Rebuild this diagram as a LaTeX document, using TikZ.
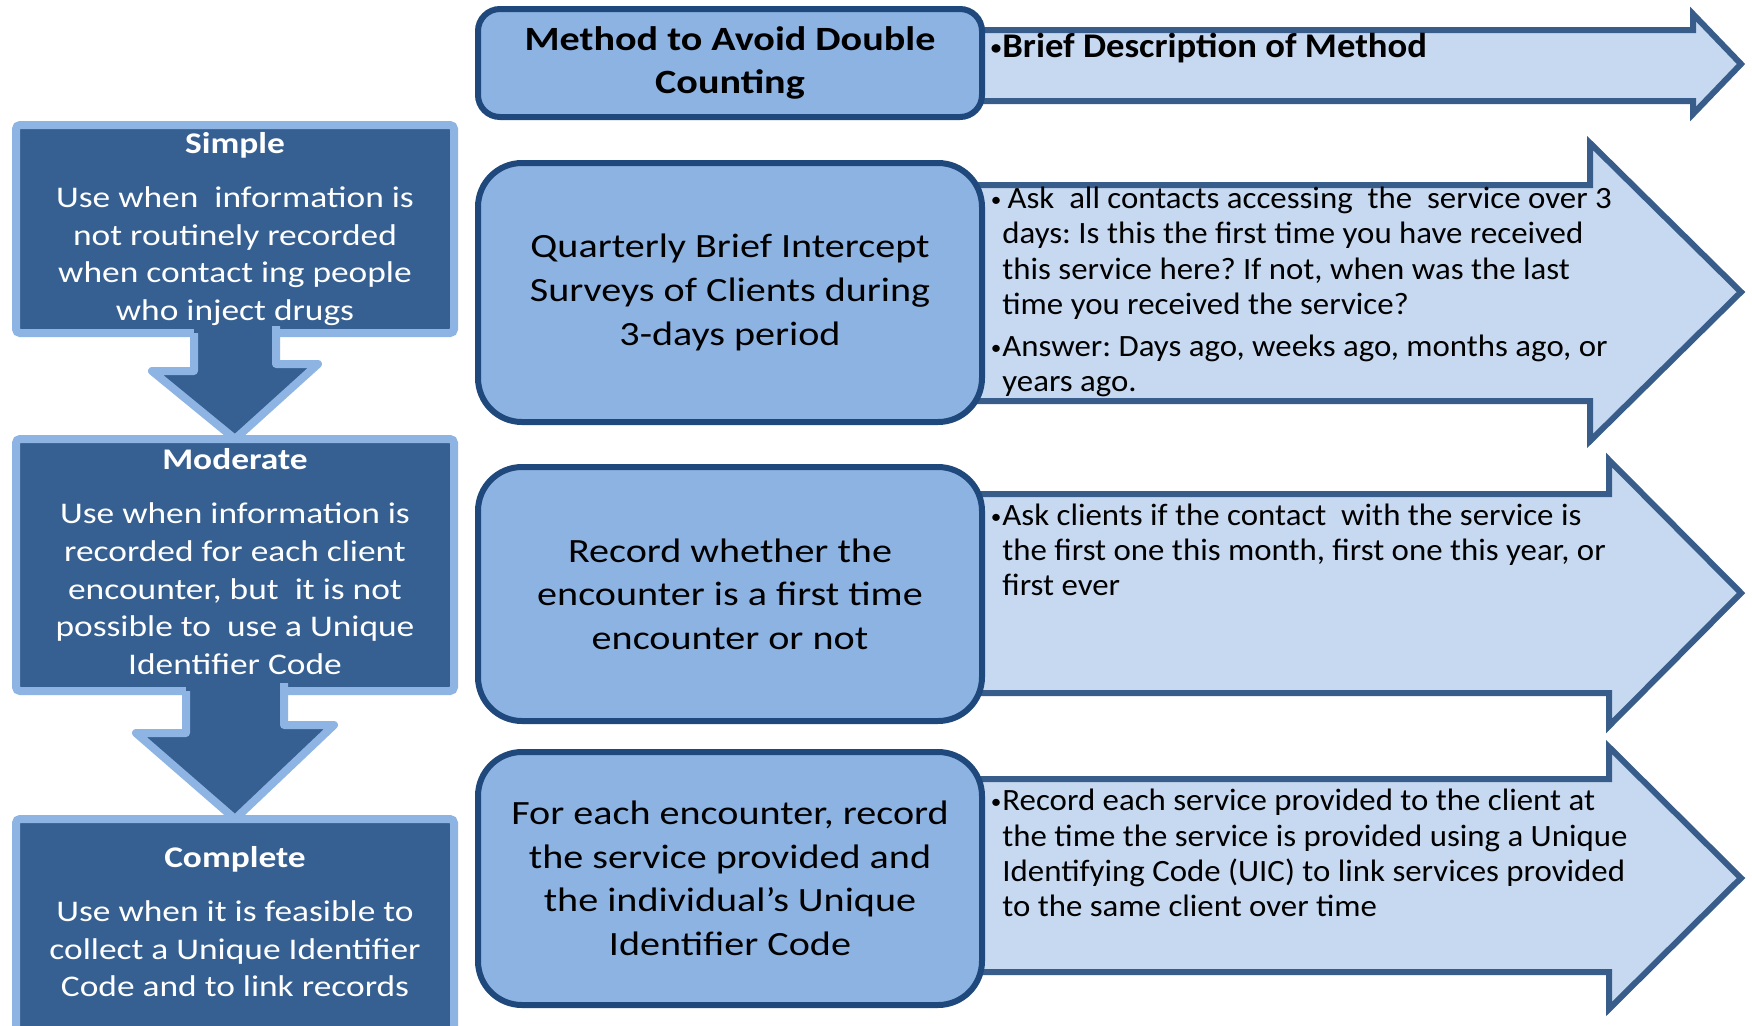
\documentclass[tikz,border=0pt]{standalone}
\usepackage{fontspec}
\setmainfont{Carlito}[FakeStretch=1.18]
\newfontfamily\descfont{Carlito}[FakeStretch=1.06]
\usetikzlibrary{positioning}
\frenchspacing

\definecolor{leveldark}{RGB}{54,96,146}
\definecolor{levelline}{RGB}{142,180,227}
\definecolor{methodfill}{RGB}{141,179,226}
\definecolor{methodline}{RGB}{31,73,125}
\definecolor{descfill}{RGB}{198,217,241}
\definecolor{descline}{RGB}{56,93,138}

\newcommand\descbullet{\llap{\raisebox{0.15ex}{\fontsize{10}{10}\selectfont•}\hspace{0.5pt}}}

\tikzset{
  levelbox/.style={draw=levelline, fill=leveldark, line width=4pt, rounded corners=2pt, minimum width=219pt},
  leveltext/.style={text=white, align=center, inner sep=0pt, font=\fontsize{15}{18.8}\selectfont},
  levelarrow/.style={levelline, line width=4pt, line join=round},
  methodbox/.style={draw=methodline, fill=methodfill, line width=3pt, rounded corners=22pt, minimum width=252pt,
    align=center, text=black, font=\fontsize{17}{21.8}\selectfont},
  descarrow/.style={draw=descline, fill=descfill, line width=3pt, line join=miter},
  desctext/.style={align=left, anchor=west, inner sep=0pt, text=black, font=\descfont\fontsize{15.5}{17.6}\selectfont},
}

\begin{document}
\begin{tikzpicture}[x=0.5pt, y=-0.5pt]
  \useasboundingbox (0,0) rectangle (1752,1025);
  \clip (0,0) rectangle (1752,1025);
  \fill[white] (0,0) rectangle (1752,1025);

  % description arrows, drawn first so that the method boxes hide their tails
  \foreach \ytop/\ybot/\headtop/\headbot/\headx in {30/101/14/114/1693, 185/401/143/441/1590, 494/693/460/726/1609, 779/972/747/1009/1609}
    \draw[descarrow] (900,\ytop) -- (\headx,\ytop) -- (\headx,\headtop) -- (1741,{(\headtop+\headbot)/2})
      -- (\headx,\headbot) -- (\headx,\ybot) -- (900,\ybot) -- cycle;

  % levels of completeness
  \node[levelbox, minimum height=104pt] (simple) at (235,229) {};
  \node[levelbox, minimum height=126pt] (moderate) at (235,565) {};
  \node[levelbox, minimum height=120.5pt] (complete) at (235,939.5) {};

  % arrows between the levels
  \fill[leveldark] ([xshift=-20.5pt,yshift=4pt]simple.south) -- ++(0,42) -- ++(-42,0) -- ([yshift=-2pt]moderate.north)
    -- ++(83,-75) -- ++(-42,0) -- ++(0,-42) -- cycle;
  \draw[levelarrow] ([xshift=-20.5pt,yshift=2pt]simple.south) -- ++(0,38) -- ++(-42,0) -- ([yshift=-2pt]moderate.north)
    -- ++(83,-75) -- ++(-42,0) -- ++(0,-38);
  \fill[leveldark] ([xshift=-24.5pt,yshift=4pt]moderate.south) -- ++(0,46) -- ++(-50,0) -- ([yshift=-2pt]complete.north)
    -- ++(99,-94) -- ++(-50,0) -- ++(0,-46) -- cycle;
  \draw[levelarrow] ([xshift=-24.5pt,yshift=2pt]moderate.south) -- ++(0,42) -- ++(-50,0) -- ([yshift=-2pt]complete.north)
    -- ++(99,-94) -- ++(-50,0) -- ++(0,-42);

  \node[leveltext] (simple-text) at (235,229) {\textbf{Simple}\\[8.3pt]
    Use when~ information is\\ not routinely recorded\\ when contact ing people\\ who inject drugs};
  \node[leveltext] (moderate-text) at (235,561.5) {\textbf{Moderate}\\[8.3pt]
    Use when information is\\ recorded for each client\\ encounter, but~ it is not\\ possible to~ use a Unique\\ Identifier Code};
  \node[leveltext] (complete-text) at (235,921.5) {\textbf{Complete}\\[8.3pt]
    Use when it is feasible to\\ collect a Unique Identifier\\ Code and to link records};

  % methods
  \node[methodbox, rounded corners=11pt, minimum height=54pt, font=\bfseries\fontsize{17}{21.8}\selectfont] (method-head) at (730,63)
    {Method to Avoid Double\\ Counting};
  \node[methodbox, minimum height=129.5pt] (method-survey) at (730,292.5)
    {Quarterly Brief Intercept\\ Surveys of Clients during\\ 3-days period};
  \node[methodbox, minimum height=127pt] (method-first) at (730,594)
    {Record whether the\\ encounter is a first time\\ encounter or not};
  \node[methodbox, minimum height=126.5pt] (method-uic) at (730,878.5)
    {For each encounter, record\\ the service provided and\\ the individual's Unique\\ Identifier Code};

  % descriptions
  \node[desctext, font=\descfont\bfseries\fontsize{17.3}{20}\selectfont] (desc-head) at (1002,48)
    {\descbullet Brief Description of Method};
  \node[desctext] (desc-survey) at (1002,292)
    {\descbullet\,Ask~ all contacts accessing~ the~ service over 3\\
     days: Is this the first time you have received\\
     this service here? If not, when was the last\\
     time you received the service?\\[3.5pt]
     \descbullet Answer: Days ago, weeks ago, months ago, or\\
     years ago.};
  \node[desctext] (desc-first) at (1002,550)
    {\descbullet Ask clients if the contact~ with the service is\\
     the first one this month, first one this year, or\\
     first ever};
  \node[desctext] (desc-uic) at (1002,853)
    {\descbullet Record each service provided to the client at\\
     the time the service is provided using a Unique\\
     Identifying Code (UIC) to link services provided\\
     to the same client over time};
\end{tikzpicture}
\end{document}
